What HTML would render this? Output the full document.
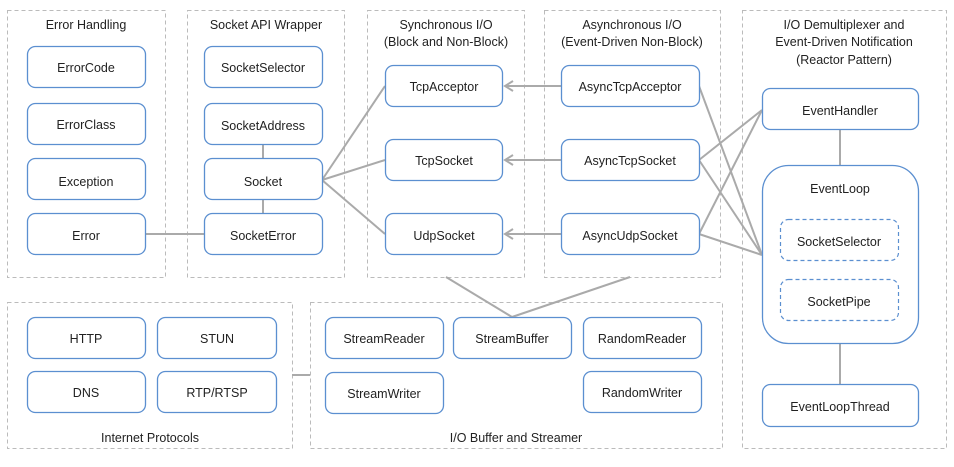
<!DOCTYPE html>
<html><head><meta charset="utf-8"><style>
html,body{margin:0;padding:0;background:#fff;}
svg text{font-family:"Liberation Sans",sans-serif;font-size:12.5px;fill:#222;text-anchor:middle;}
</style></head><body>
<svg width="954" height="462" viewBox="0 0 954 462" xmlns="http://www.w3.org/2000/svg">
<g fill="none" stroke="#bbb" stroke-width="1" stroke-dasharray="4,3">
<rect x="7.5" y="10.5" width="158" height="267"/>
<rect x="187.5" y="10.5" width="157" height="267"/>
<rect x="367.5" y="10.5" width="157" height="267"/>
<rect x="544.5" y="10.5" width="176" height="267"/>
<rect x="742.5" y="10.5" width="204" height="438"/>
<rect x="7.5" y="302.5" width="285" height="146"/>
<rect x="310.5" y="302.5" width="412" height="146"/>
</g>
<g stroke="#aaa" stroke-width="2" fill="none">
<line x1="145" y1="234" x2="204" y2="234"/>
<line x1="263" y1="145" x2="263" y2="158"/>
<line x1="263" y1="200" x2="263" y2="213"/>
<line x1="322" y1="180" x2="385" y2="86"/>
<line x1="322" y1="180" x2="385" y2="160"/>
<line x1="322" y1="180" x2="385" y2="234"/>
<line x1="561" y1="86" x2="505" y2="86"/>
<line x1="561" y1="160" x2="505" y2="160"/>
<line x1="561" y1="234" x2="505" y2="234"/>
<polyline points="513,81 505,86 513,91"/>
<polyline points="513,155 505,160 513,165"/>
<polyline points="513,229 505,234 513,239"/>
<line x1="699" y1="86" x2="762" y2="255"/>
<line x1="699" y1="160" x2="762" y2="255"/>
<line x1="699" y1="234" x2="762" y2="255"/>
<line x1="699" y1="160" x2="762" y2="110"/>
<line x1="699" y1="234" x2="762" y2="110"/>
<line x1="840" y1="129" x2="840" y2="165"/>
<line x1="840" y1="343" x2="840" y2="384"/>
<line x1="446" y1="277" x2="512" y2="317"/>
<line x1="630" y1="277" x2="512" y2="317"/>
<line x1="292" y1="375" x2="310" y2="375"/>
</g>
<g fill="#fff" stroke="#5b8fd0" stroke-width="1.3">
<rect x="27.5" y="46.5" width="118" height="41" rx="8"/>
<rect x="27.5" y="103.5" width="118" height="41" rx="8"/>
<rect x="27.5" y="158.5" width="118" height="41" rx="8"/>
<rect x="27.5" y="213.5" width="118" height="41" rx="8"/>
<rect x="204.5" y="46.5" width="118" height="41" rx="8"/>
<rect x="204.5" y="103.5" width="118" height="41" rx="8"/>
<rect x="204.5" y="158.5" width="118" height="41" rx="8"/>
<rect x="204.5" y="213.5" width="118" height="41" rx="8"/>
<rect x="385.5" y="65.5" width="117" height="41" rx="8"/>
<rect x="385.5" y="139.5" width="117" height="41" rx="8"/>
<rect x="385.5" y="213.5" width="117" height="41" rx="8"/>
<rect x="561.5" y="65.5" width="138" height="41" rx="8"/>
<rect x="561.5" y="139.5" width="138" height="41" rx="8"/>
<rect x="561.5" y="213.5" width="138" height="41" rx="8"/>
<rect x="762.5" y="88.5" width="156" height="41" rx="8"/>
<rect x="762.5" y="165.5" width="156" height="178" rx="26"/>
<rect x="762.5" y="384.5" width="156" height="42" rx="8"/>
<rect x="27.5" y="317.5" width="118" height="41" rx="8"/>
<rect x="157.5" y="317.5" width="119" height="41" rx="8"/>
<rect x="27.5" y="371.5" width="118" height="41" rx="8"/>
<rect x="157.5" y="371.5" width="119" height="41" rx="8"/>
<rect x="325.5" y="317.5" width="118" height="41" rx="8"/>
<rect x="453.5" y="317.5" width="118" height="41" rx="8"/>
<rect x="583.5" y="317.5" width="118" height="41" rx="8"/>
<rect x="325.5" y="372.5" width="118" height="41" rx="8"/>
<rect x="583.5" y="371.5" width="118" height="41" rx="8"/>
</g>
<g fill="#fff" stroke="#5b8fd0" stroke-width="1.2" stroke-dasharray="4,3">
<rect x="780.5" y="219.5" width="118" height="41" rx="8"/>
<rect x="780.5" y="279.5" width="118" height="41" rx="8"/>
</g>
<text x="86" y="29">Error Handling</text>
<text x="266" y="29">Socket API Wrapper</text>
<text x="446" y="29">Synchronous I/O</text>
<text x="446" y="46">(Block and Non-Block)</text>
<text x="632" y="29">Asynchronous I/O</text>
<text x="632" y="46">(Event-Driven Non-Block)</text>
<text x="844" y="29">I/O Demultiplexer and</text>
<text x="844" y="46">Event-Driven Notification</text>
<text x="844" y="64">(Reactor Pattern)</text>
<text x="86" y="72">ErrorCode</text>
<text x="86" y="129">ErrorClass</text>
<text x="86" y="186">Exception</text>
<text x="86" y="240">Error</text>
<text x="263" y="72">SocketSelector</text>
<text x="263" y="130">SocketAddress</text>
<text x="263" y="186">Socket</text>
<text x="263" y="240">SocketError</text>
<text x="444" y="91">TcpAcceptor</text>
<text x="444" y="165">TcpSocket</text>
<text x="444" y="240">UdpSocket</text>
<text x="630" y="91">AsyncTcpAcceptor</text>
<text x="630" y="165">AsyncTcpSocket</text>
<text x="630" y="240">AsyncUdpSocket</text>
<text x="840" y="115">EventHandler</text>
<text x="840" y="193">EventLoop</text>
<text x="839" y="246">SocketSelector</text>
<text x="839" y="306">SocketPipe</text>
<text x="840" y="411">EventLoopThread</text>
<text x="86" y="343">HTTP</text>
<text x="217" y="343">STUN</text>
<text x="86" y="397">DNS</text>
<text x="217" y="397">RTP/RTSP</text>
<text x="384" y="343">StreamReader</text>
<text x="512" y="343">StreamBuffer</text>
<text x="642" y="343">RandomReader</text>
<text x="384" y="398">StreamWriter</text>
<text x="642" y="397">RandomWriter</text>
<text x="150" y="442">Internet Protocols</text>
<text x="516" y="442">I/O Buffer and Streamer</text>
</svg>
</body></html>
